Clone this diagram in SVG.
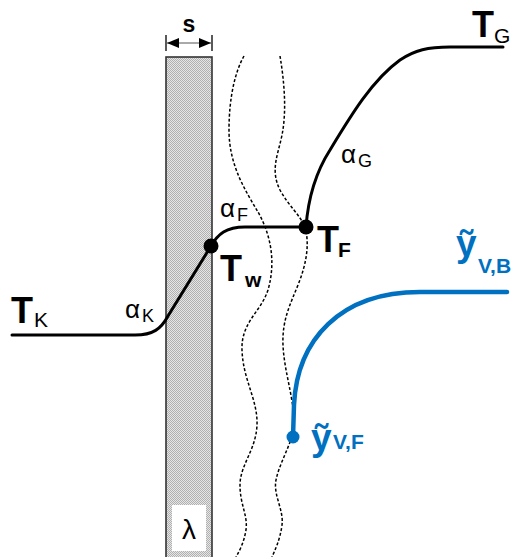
<svg xmlns="http://www.w3.org/2000/svg" width="515" height="557" viewBox="0 0 515 557">
<style>
.t{font-family:"Liberation Sans",Arial,sans-serif;fill:#000}
.b{font-weight:bold}
.blue{fill:#0070c0}
.curve{fill:none;stroke:#000;stroke-width:3;stroke-linecap:round;stroke-linejoin:round}
.bcurve{fill:none;stroke:#0070c0;stroke-width:4.5;stroke-linecap:round}
.dash{fill:none;stroke:#000;stroke-width:1.5;stroke-dasharray:3 2}
</style>
<defs>
<pattern id="chk" width="2" height="2" patternUnits="userSpaceOnUse">
<rect width="2" height="2" fill="#e6e6e6"/>
<rect width="1" height="1" fill="#b0b0b0"/>
<rect x="1" y="1" width="1" height="1" fill="#b0b0b0"/>
</pattern>
<marker id="ah" viewBox="0 0 12 10" refX="12" refY="5" markerWidth="12" markerHeight="10" markerUnits="userSpaceOnUse" orient="auto-start-reverse">
<path d="M0,0 L12,5 L0,10 Z" fill="#000"/>
</marker>
</defs>

<g id="wall">
<rect x="166" y="57" width="46" height="510" fill="url(#chk)" stroke="#333" stroke-width="1.6"/>
<rect x="172" y="505" width="34" height="46" fill="#fff"/>
<text class="t" x="189" y="539" font-size="28" text-anchor="middle">λ</text>
</g>

<g id="dimension">
<line x1="166" y1="35" x2="166" y2="51" stroke="#000" stroke-width="1.3"/>
<line x1="212" y1="35" x2="212" y2="51" stroke="#000" stroke-width="1.3"/>
<line x1="167" y1="43" x2="211" y2="43" stroke="#555" stroke-width="1" marker-start="url(#ah)" marker-end="url(#ah)"/>
<text class="t b" x="189" y="32" font-size="23" text-anchor="middle">s</text>
</g>

<g id="connectors">
<path class="dash" d="M244,56 C236,70 229,95 229,130 C229,165 245,190 258,212 C271,235 276,262 268,290 C261,312 241,322 242,350 C243,380 258,400 257,425 C256,450 240,465 240,485 C240,505 248,515 246,530 C244,542 240,550 236,557"/>
<path class="dash" d="M280,56 C284,80 287,110 282,135 C278,155 270,170 280,190 C288,205 300,215 305,227 C310,245 306,265 298,285 C290,305 282,320 283,345 C284,370 293,395 294,420 C295,440 280,460 276,480 C273,495 284,510 282,525 C280,540 275,550 272,557"/>
<path class="curve" d="M12,335 L135,335 C153,335 161,329 168,316 L211,246 C218,234 226,227 245,227 L306,227"/>
<path class="curve" d="M306,227 C308,200 314,175 330,150 C350,117 372,80 400,60 C415,50 428,47 450,47 L503,47"/>
<path class="bcurve" d="M293,437 L294,405 C297,340 340,292 420,292 L507,292"/>
</g>

<g id="TK">
<text class="t b" x="11" y="323" font-size="36">T</text>
<text class="t" x="34" y="327" font-size="21">K</text>
</g>
<g id="alphaK">
<text class="t" x="125" y="318" font-size="26">α</text>
<text class="t" x="142" y="322" font-size="18">K</text>
</g>
<g id="Tw">
<circle cx="211" cy="246" r="7.5" fill="#000"/>
<text class="t b" x="220" y="281" font-size="36">T</text>
<text class="t b" x="245" y="287" font-size="21">w</text>
</g>
<g id="alphaF">
<text class="t" x="220" y="217" font-size="26">α</text>
<text class="t" x="237" y="221" font-size="18">F</text>
</g>
<g id="TF">
<circle cx="306" cy="227" r="7.5" fill="#000"/>
<text class="t b" x="317" y="252" font-size="36">T</text>
<text class="t b" x="338" y="257" font-size="21">F</text>
</g>
<g id="alphaG">
<text class="t" x="341" y="163" font-size="26">α</text>
<text class="t" x="358" y="167" font-size="18">G</text>
</g>
<g id="TG">
<text class="t b" x="472" y="37" font-size="36">T</text>
<text class="t" x="494" y="43" font-size="21">G</text>
</g>
<g id="yVB">
<text class="t b blue" x="456" y="256" font-size="37">ỹ</text>
<text class="t b blue" x="478" y="273" font-size="21">V,B</text>
</g>
<g id="yVF">
<circle cx="293" cy="437" r="6.5" fill="#0070c0"/>
<text class="t b blue" x="311" y="450" font-size="37">ỹ</text>
<text class="t b blue" x="333" y="449" font-size="21">V,F</text>
</g>
</svg>
